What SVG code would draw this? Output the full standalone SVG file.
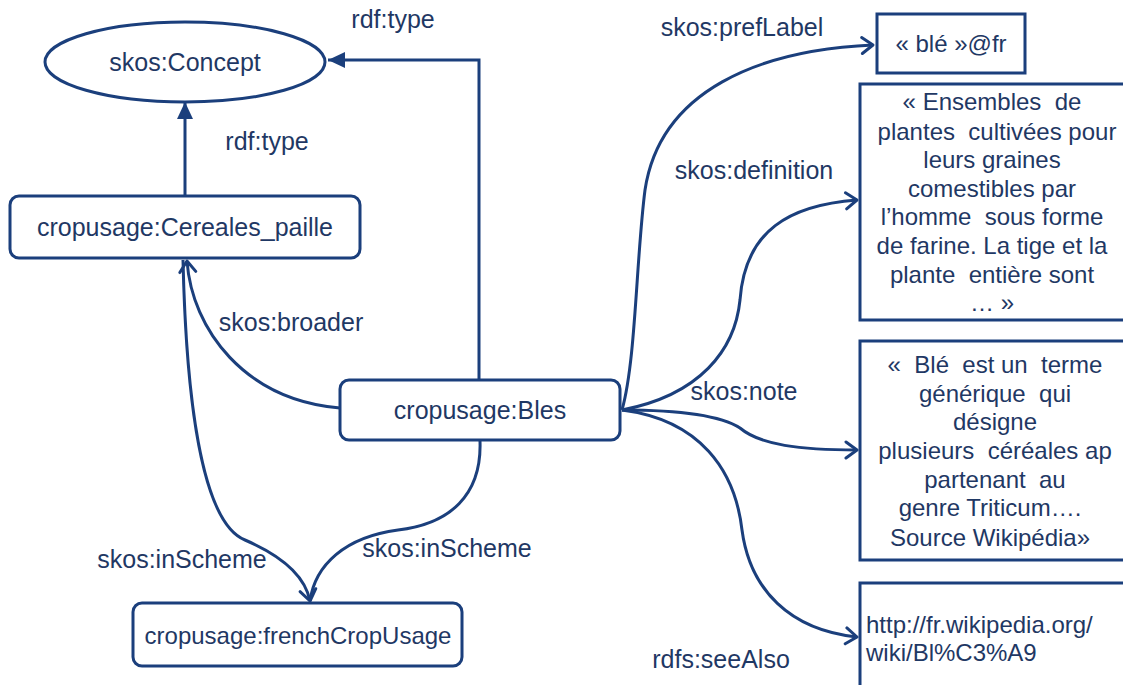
<svg xmlns="http://www.w3.org/2000/svg" width="1123" height="685" viewBox="0 0 1123 685">
<style>
  text { font-family: "Liberation Sans", Arial, sans-serif; font-size: 24px; fill: #1F3864; }
  .c { text-anchor: middle; }
  .lg { font-size: 25px; }
  .node { fill: #FFFFFF; stroke: #1B3F7C; stroke-width: 3; }
  .edge { fill: none; stroke: #1B3F7C; stroke-width: 3; }
</style>
<defs>
  <marker id="tri" markerUnits="userSpaceOnUse" markerWidth="20" markerHeight="20" refX="17" refY="8" orient="auto">
    <path d="M0,0 L17,8 L0,16 z" fill="#1B3F7C"/>
  </marker>
  <marker id="open" markerUnits="userSpaceOnUse" markerWidth="20" markerHeight="22" refX="14" refY="10" orient="auto">
    <path d="M3,2 L14,10 L3,18" fill="none" stroke="#1B3F7C" stroke-width="3" stroke-linecap="round" stroke-linejoin="round"/>
  </marker>
</defs>
<rect width="1123" height="685" fill="#FFFFFF"/>

<g id="connectors">
  <path class="edge" d="M479,380 L479,60 L328,60" marker-end="url(#tri)"/>
  <path class="edge" d="M185,196 L185,102" marker-end="url(#tri)"/>
  <path class="edge" d="M340,408 C 245,400 192,330 187,261" marker-end="url(#open)"/>
  <path class="edge" d="M183,260 C 186,390 200,522 245,540 C 282,556 305,575 310,601" marker-end="url(#open)"/>
  <path class="edge" d="M480,441 C 482,495 450,524 398,530 C 345,537 315,565 310,601"/>
  <path class="edge" d="M622,410 C 636,360 636,260 645,190 C 660,90 760,50 873,45" marker-end="url(#open)"/>
  <path class="edge" d="M622,410 C 700,395 735,350 740,300 C 745,230 790,205 857,200" marker-end="url(#open)"/>
  <path class="edge" d="M622,410 C 680,410 720,415 740,428 C 760,445 800,450 857,450" marker-end="url(#open)"/>
  <path class="edge" d="M622,410 C 700,420 735,470 742,530 C 750,590 790,630 857,637" marker-end="url(#open)"/>
  <text class="c lg" x="393" y="28">rdf:type</text>
  <text class="c lg" x="267" y="150">rdf:type</text>
  <text class="c lg" x="291" y="331">skos:broader</text>
  <text class="c lg" x="182" y="568">skos:inScheme</text>
  <text class="c lg" x="447" y="557">skos:inScheme</text>
  <text class="c lg" x="742" y="36">skos:prefLabel</text>
  <text class="c lg" x="754" y="179">skos:definition</text>
  <text class="c lg" x="744" y="400">skos:note</text>
  <text class="c lg" x="721" y="668">rdfs:seeAlso</text>
</g>

<g id="n-concept">
  <ellipse class="node" cx="185" cy="62" rx="140" ry="40"/>
  <text class="c lg" x="185" y="71">skos:Concept</text>
</g>
<g id="n-cereales">
  <rect class="node" x="10" y="196" width="350" height="62" rx="9"/>
  <text class="c lg" x="185" y="236">cropusage:Cereales_paille</text>
</g>
<g id="n-bles">
  <rect class="node" x="340" y="380" width="280" height="60" rx="9"/>
  <text class="c lg" x="480" y="419">cropusage:Bles</text>
</g>
<g id="n-scheme">
  <rect class="node" x="133" y="603" width="329" height="63" rx="9"/>
  <text class="c" x="298" y="644">cropusage:frenchCropUsage</text>
</g>
<g id="n-preflabel">
  <rect class="node" x="877" y="14" width="148" height="59"/>
  <text class="c" x="951" y="52">« blé »@fr</text>
</g>
<g id="n-definition">
  <rect class="node" x="860" y="84" width="280" height="236"/>
  <text class="c" x="992" y="110" xml:space="preserve">« Ensembles  de</text>
  <text class="c" x="997" y="140" xml:space="preserve">plantes  cultivées pour</text>
  <text class="c" x="992" y="168">leurs graines</text>
  <text class="c" x="992" y="197">comestibles par</text>
  <text class="c" x="992" y="225" xml:space="preserve">l’homme  sous forme</text>
  <text class="c" x="992" y="254" xml:space="preserve">de farine. La tige et la</text>
  <text class="c" x="992" y="283" xml:space="preserve">plante  entière sont</text>
  <text class="c" x="992" y="311">… »</text>
</g>
<g id="n-note">
  <rect class="node" x="860" y="341" width="280" height="219"/>
  <text class="c" x="995" y="373" xml:space="preserve">«  Blé  est un  terme</text>
  <text class="c" x="995" y="402" xml:space="preserve">générique  qui</text>
  <text class="c" x="995" y="430">désigne</text>
  <text class="c" x="995" y="459" xml:space="preserve">plusieurs  céréales ap</text>
  <text class="c" x="995" y="488" xml:space="preserve">partenant  au</text>
  <text class="c" x="990" y="516">genre Triticum….</text>
  <text class="c" x="990" y="546">Source Wikipédia»</text>
</g>
<g id="n-seealso">
  <rect class="node" x="860" y="583" width="280" height="120"/>
  <text x="866" y="633">http://fr.wikipedia.org/</text>
  <text x="866" y="661">wiki/Bl%C3%A9</text>
</g>
</svg>
